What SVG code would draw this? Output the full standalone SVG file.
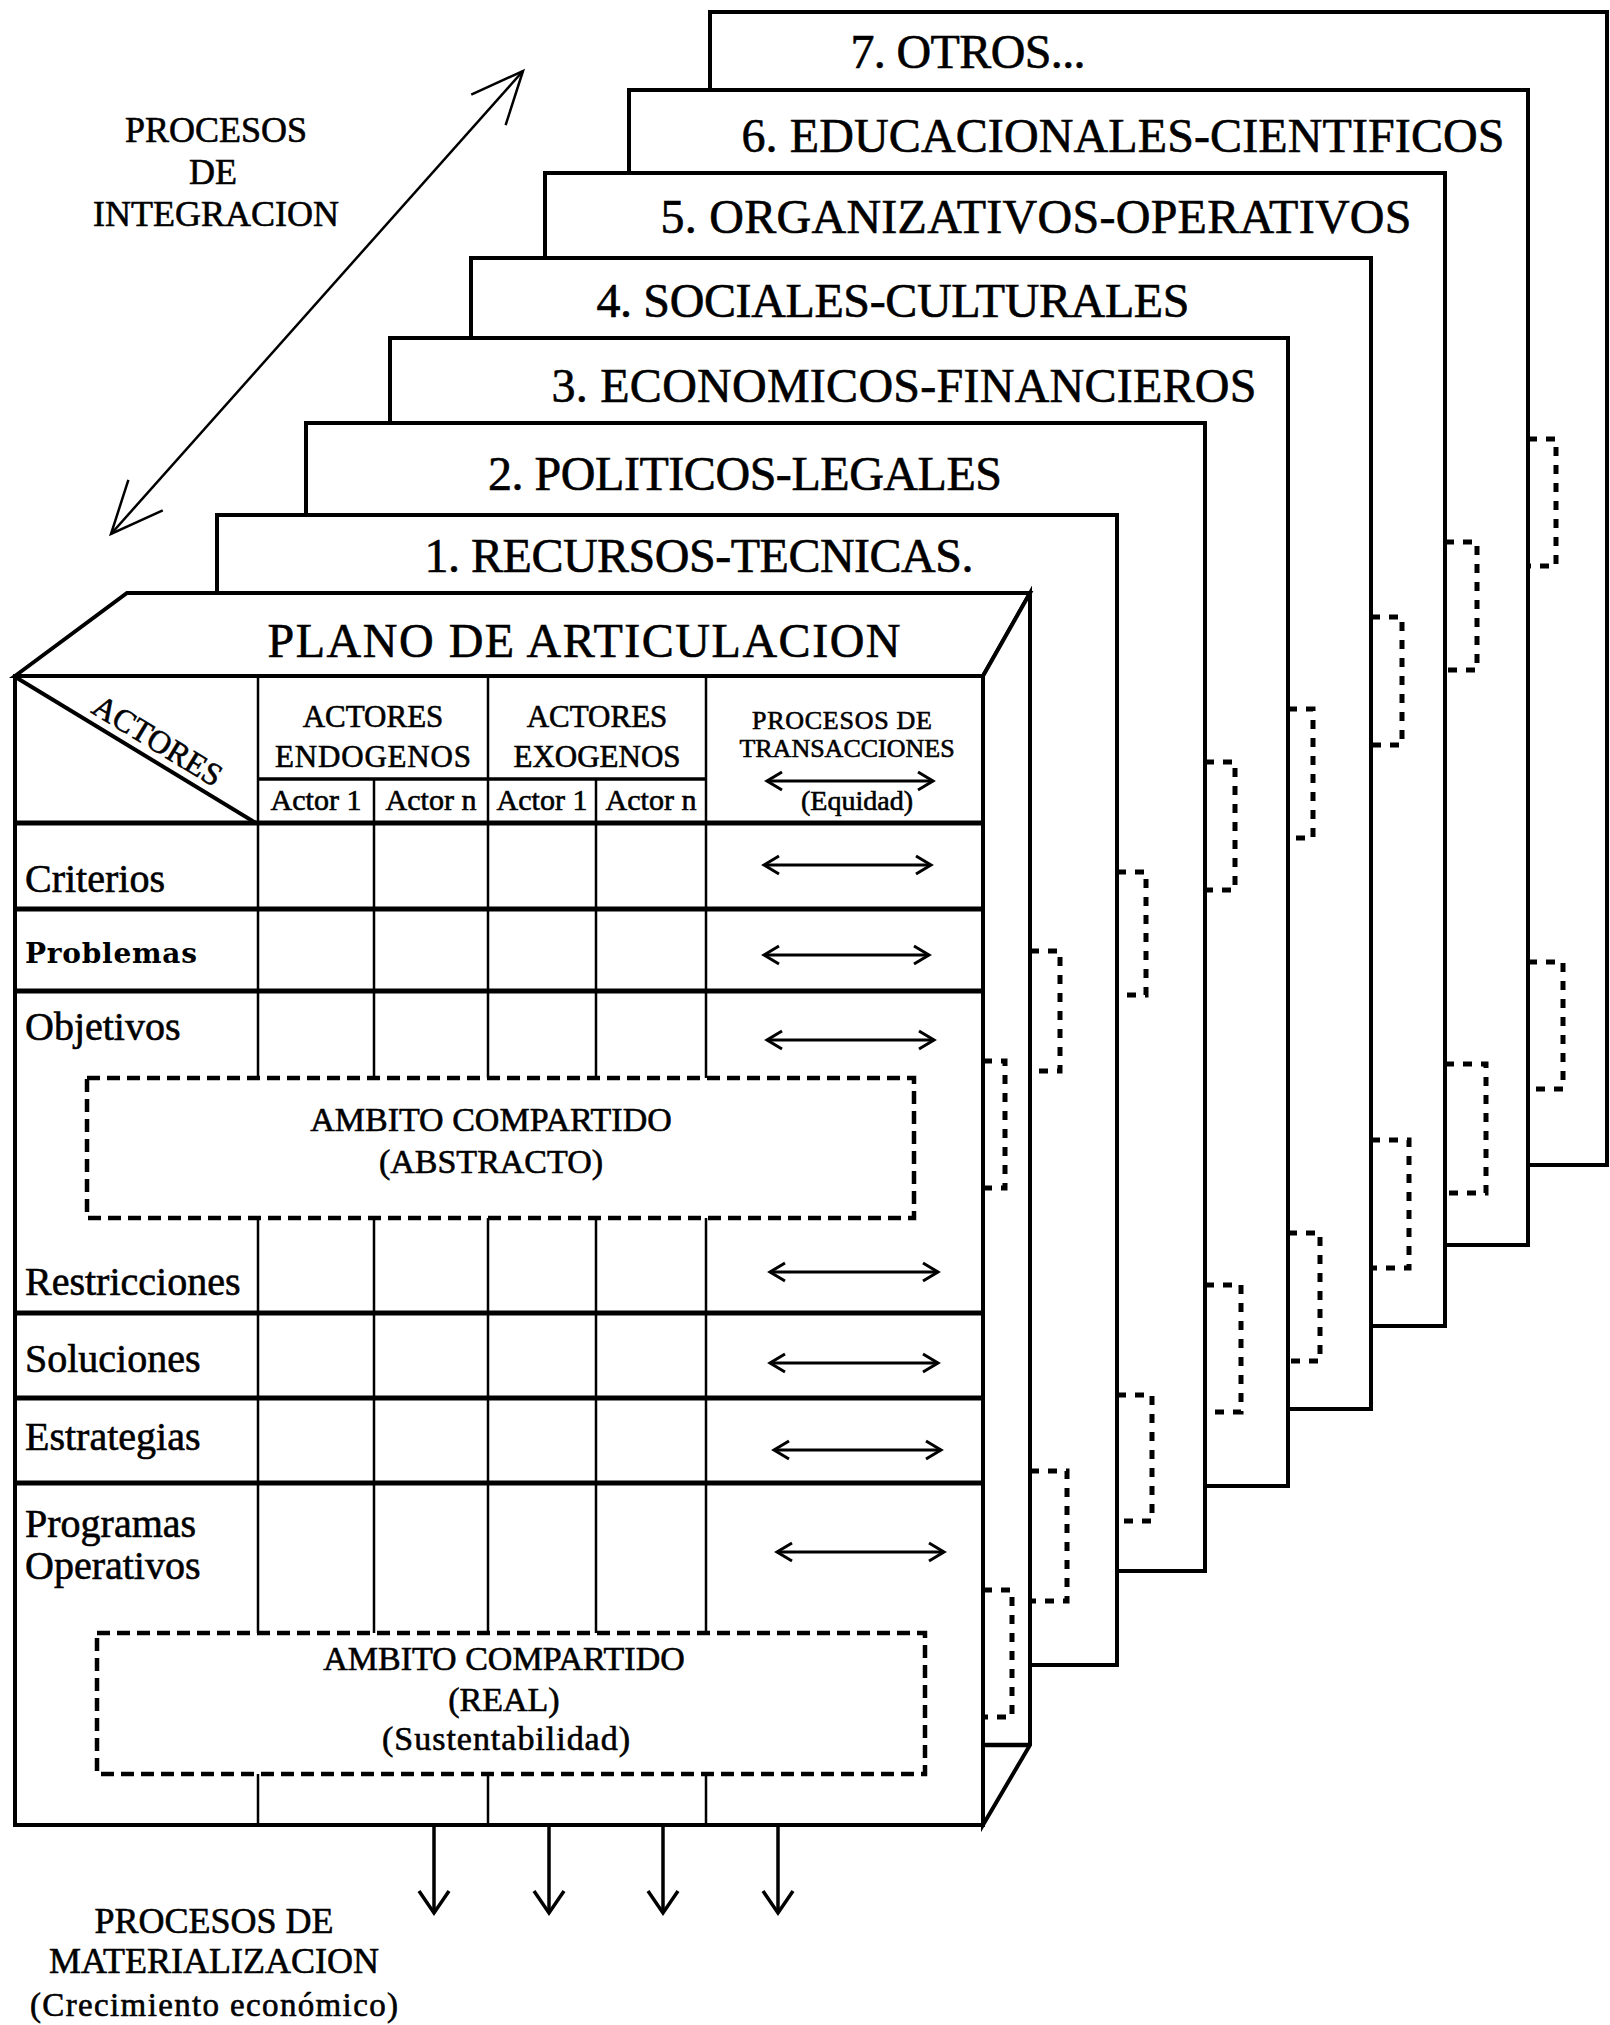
<svg xmlns="http://www.w3.org/2000/svg" width="1610" height="2025" viewBox="0 0 1610 2025">
<style>
  .sheet{fill:#fff;stroke:#000;stroke-width:4}
  .edge{fill:none;stroke:#000;stroke-width:4.5}
  .rule{fill:none;stroke:#000;stroke-width:5}
  .col{fill:none;stroke:#000;stroke-width:2.5}
  .dash{fill:none;stroke:#000;stroke-width:4.5;stroke-dasharray:13 7}
  .stub{fill:none;stroke:#000;stroke-width:5;stroke-dasharray:9 9}
  .arr{fill:none;stroke:#000;stroke-width:3;marker-start:url(#tip);marker-end:url(#tip)}
  .down{fill:none;stroke:#000;stroke-width:3.5;marker-end:url(#drop)}
  .t{font-family:"Liberation Serif","Times New Roman",serif;fill:#000;stroke:#000;stroke-width:0.6}
  .title{font-size:48px;text-anchor:middle}
  .mid{text-anchor:middle}
  .row{font-size:40px}
</style>
<defs>
  <marker id="tip" viewBox="-18 -12 20 24" refX="0" refY="0" markerWidth="20" markerHeight="24" markerUnits="userSpaceOnUse" orient="auto-start-reverse" overflow="visible">
    <path d="M-15,-9 L0,0 L-15,9" fill="none" stroke="#000" stroke-width="3"/>
  </marker>
  <marker id="drop" viewBox="-26 -18 28 36" refX="0" refY="0" markerWidth="28" markerHeight="36" markerUnits="userSpaceOnUse" orient="auto" overflow="visible">
    <path d="M-22,-15 L0,0 L-22,15" fill="none" stroke="#000" stroke-width="3.5"/>
  </marker>
  <marker id="wide" viewBox="-56 -26 58 52" refX="0" refY="0" markerWidth="58" markerHeight="52" markerUnits="userSpaceOnUse" orient="auto-start-reverse" overflow="visible">
    <path d="M-52,-23 L0,0 L-52,23" fill="none" stroke="#000" stroke-width="2.5"/>
  </marker>
</defs>

<!-- integration axis -->
<g id="integracion">
  <line x1="111" y1="534" x2="523" y2="71" fill="none" stroke="#000" stroke-width="2.5" marker-start="url(#wide)" marker-end="url(#wide)"/>
  <text class="t mid" x="216" y="142" font-size="36">PROCESOS</text>
  <text class="t mid" x="213" y="184" font-size="36">DE</text>
  <text class="t mid" x="216" y="226" font-size="36">INTEGRACION</text>
</g>

<!-- stacked planes, back to front -->
<g id="plano-7">
  <rect class="sheet" x="710" y="12" width="897" height="1153"/>
  <text class="t title" x="968" y="68" textLength="235">7. OTROS...</text>
  <path class="stub" d="M1528,439 H1556 V566 H1528"/>
  <path class="stub" d="M1528,962 H1563 V1089 H1528"/>
</g>
<g id="plano-6">
  <rect class="sheet" x="629" y="90" width="899" height="1155"/>
  <text class="t title" x="1123" y="152" textLength="763">6. EDUCACIONALES-CIENTIFICOS</text>
  <path class="stub" d="M1445,542 H1477 V670 H1445"/>
  <path class="stub" d="M1445,1064 H1486 V1193 H1445"/>
</g>
<g id="plano-5">
  <rect class="sheet" x="545" y="173" width="900" height="1153"/>
  <text class="t title" x="1036" y="233" textLength="751">5. ORGANIZATIVOS-OPERATIVOS</text>
  <path class="stub" d="M1371,617 H1402 V745 H1371"/>
  <path class="stub" d="M1371,1140 H1409 V1268 H1371"/>
</g>
<g id="plano-4">
  <rect class="sheet" x="471" y="258" width="900" height="1151"/>
  <text class="t title" x="893" y="317" textLength="593">4. SOCIALES-CULTURALES</text>
  <path class="stub" d="M1288,709 H1313 V838 H1288"/>
  <path class="stub" d="M1288,1233 H1320 V1361 H1288"/>
</g>
<g id="plano-3">
  <rect class="sheet" x="390" y="338" width="898" height="1148"/>
  <text class="t title" x="904" y="402" textLength="705">3. ECONOMICOS-FINANCIEROS</text>
  <path class="stub" d="M1205,762 H1235 V890 H1205"/>
  <path class="stub" d="M1205,1285 H1241 V1412 H1205"/>
</g>
<g id="plano-2">
  <rect class="sheet" x="306" y="423" width="899" height="1148"/>
  <text class="t title" x="745" y="490" textLength="514">2. POLITICOS-LEGALES</text>
  <path class="stub" d="M1117,872 H1146 V995 H1117"/>
  <path class="stub" d="M1117,1395 H1152 V1521 H1117"/>
</g>
<g id="plano-1">
  <rect class="sheet" x="217" y="515" width="900" height="1150"/>
  <text class="t title" x="699" y="572" textLength="549">1. RECURSOS-TECNICAS.</text>
  <path class="stub" d="M1030,951 H1060 V1071 H1030"/>
  <path class="stub" d="M1030,1471 H1067 V1601 H1030"/>
</g>

<!-- front block: articulation plane -->
<g id="plano-articulacion">
  <polygon class="sheet" points="15,676 127,593 1030,593 983,676"/>
  <polygon class="sheet" points="983,676 1030,593 1030,1745 983,1825"/>
  <line class="edge" x1="983" y1="1745" x2="1030" y2="1745"/>
  <path class="stub" d="M983,1061 H1005 V1188 H983"/>
  <path class="stub" d="M983,1590 H1012 V1717 H983"/>
  <rect class="sheet" x="15" y="676" width="968" height="1149" stroke-width="4.5"/>
  <text class="t title" x="584" y="657" textLength="633">PLANO DE ARTICULACION</text>

  <!-- header -->
  <line x1="17" y1="678" x2="256" y2="823" stroke="#000" stroke-width="4"/>
  <text class="t" x="90" y="712" font-size="32" transform="rotate(31.3 90 712)">ACTORES</text>
  <g class="col">
    <line x1="258" y1="676" x2="258" y2="823"/>
    <line x1="488" y1="676" x2="488" y2="823"/>
    <line x1="706" y1="676" x2="706" y2="823"/>
    <line x1="374" y1="779" x2="374" y2="823"/>
    <line x1="596" y1="779" x2="596" y2="823"/>
  </g>
  <line x1="258" y1="779" x2="706" y2="779" stroke="#000" stroke-width="3.5"/>
  <text class="t mid" x="373" y="727" font-size="31">ACTORES</text>
  <text class="t mid" x="373" y="767" font-size="31" textLength="196">ENDOGENOS</text>
  <text class="t mid" x="597" y="727" font-size="31">ACTORES</text>
  <text class="t mid" x="597" y="767" font-size="31">EXOGENOS</text>
  <text class="t mid" x="316" y="810" font-size="30">Actor 1</text>
  <text class="t mid" x="431" y="810" font-size="30">Actor n</text>
  <text class="t mid" x="542" y="810" font-size="30">Actor 1</text>
  <text class="t mid" x="651" y="810" font-size="30">Actor n</text>
  <text class="t mid" x="842" y="729" font-size="26" textLength="180">PROCESOS DE</text>
  <text class="t mid" x="847" y="757" font-size="26">TRANSACCIONES</text>
  <line class="arr" x1="767" y1="781" x2="933" y2="781" stroke-width="2.5"/>
  <text class="t mid" x="857" y="810" font-size="28">(Equidad)</text>

  <!-- grid -->
  <g class="rule">
    <line x1="15" y1="823" x2="983" y2="823"/>
    <line x1="15" y1="909" x2="983" y2="909"/>
    <line x1="15" y1="991" x2="983" y2="991"/>
    <line x1="15" y1="1313" x2="983" y2="1313"/>
    <line x1="15" y1="1398" x2="983" y2="1398"/>
    <line x1="15" y1="1483" x2="983" y2="1483"/>
  </g>
  <g class="col">
    <path d="M258,823 V1078 M374,823 V1078 M488,823 V1078 M596,823 V1078 M706,823 V1078"/>
    <path d="M258,1218 V1633 M374,1218 V1633 M488,1218 V1633 M596,1218 V1633 M706,1218 V1633"/>
    <path d="M258,1774 V1825 M488,1774 V1825 M706,1774 V1825"/>
  </g>

  <!-- row labels -->
  <text class="t row" x="25" y="892">Criterios</text>
  <text x="25" y="963" font-family="DejaVu Serif, serif" font-weight="bold" font-size="28" textLength="172">Problemas</text>
  <text class="t row" x="25" y="1040">Objetivos</text>
  <text class="t row" x="25" y="1295">Restricciones</text>
  <text class="t row" x="25" y="1372">Soluciones</text>
  <text class="t row" x="25" y="1450">Estrategias</text>
  <text class="t row" x="25" y="1537">Programas</text>
  <text class="t row" x="25" y="1579">Operativos</text>

  <!-- transaction arrows -->
  <line class="arr" x1="764" y1="865" x2="931" y2="865"/>
  <line class="arr" x1="764" y1="955" x2="929" y2="955" stroke-width="2"/>
  <line class="arr" x1="767" y1="1040" x2="934" y2="1040"/>
  <line class="arr" x1="770" y1="1272" x2="938" y2="1272"/>
  <line class="arr" x1="770" y1="1363" x2="938" y2="1363"/>
  <line class="arr" x1="774" y1="1450" x2="941" y2="1450"/>
  <line class="arr" x1="777" y1="1552" x2="944" y2="1552"/>

  <!-- shared areas -->
  <rect class="dash" x="87" y="1078" width="827" height="140"/>
  <text class="t mid" x="491" y="1131" font-size="34">AMBITO COMPARTIDO</text>
  <text class="t mid" x="491" y="1173" font-size="34">(ABSTRACTO)</text>
  <rect class="dash" x="97" y="1633" width="828" height="141"/>
  <text class="t mid" x="504" y="1670" font-size="34">AMBITO COMPARTIDO</text>
  <text class="t mid" x="504" y="1711" font-size="34">(REAL)</text>
  <text class="t mid" x="506" y="1750" font-size="34" textLength="248">(Sustentabilidad)</text>
</g>

<!-- materialization outputs -->
<g id="materializacion">
  <line class="down" x1="434" y1="1825" x2="434" y2="1913"/>
  <line class="down" x1="549" y1="1825" x2="549" y2="1913"/>
  <line class="down" x1="663" y1="1825" x2="663" y2="1913"/>
  <line class="down" x1="778" y1="1825" x2="778" y2="1913"/>
  <text class="t mid" x="214" y="1933" font-size="36">PROCESOS DE</text>
  <text class="t mid" x="214" y="1973" font-size="36">MATERIALIZACION</text>
  <text class="t mid" x="214" y="2016" font-size="33" textLength="368">(Crecimiento económico)</text>
</g>
</svg>
